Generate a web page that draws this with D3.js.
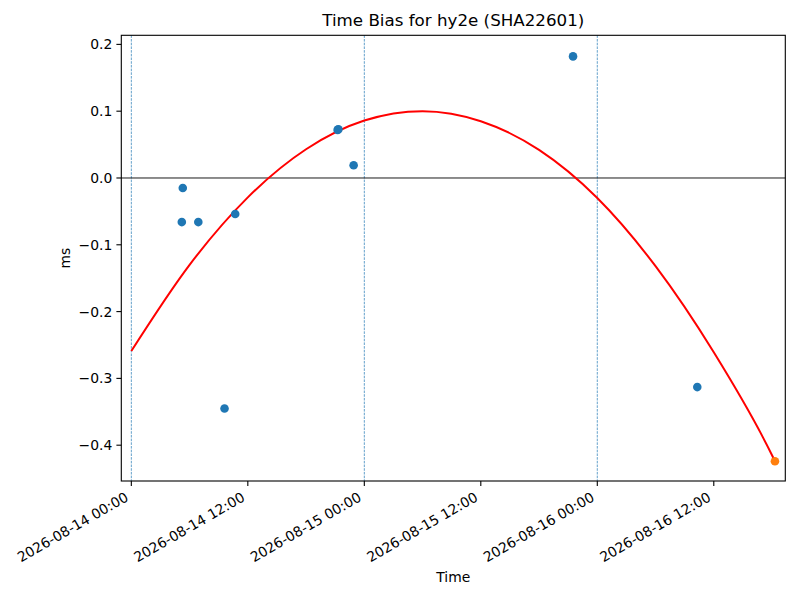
<!DOCTYPE html>
<html>
<head>
<meta charset="utf-8">
<script src="https://cdn.jsdelivr.net/npm/d3@7"></script>
<style>
  body { margin: 0; background: #fff; }
  svg { font-family: "DejaVu Sans", sans-serif; }
</style>
</head>
<body>
<svg id="chart" width="800" height="600"></svg>
<script>
// measured time bias samples (ms)
const pointTimes = ["2026-08-14 05:12", "2026-08-14 05:18", "2026-08-14 06:54", "2026-08-14 09:36",
                    "2026-08-14 10:42", "2026-08-14 21:15", "2026-08-14 21:20", "2026-08-14 22:54",
                    "2026-08-15 21:30", "2026-08-16 10:18"];
const pointBias = [-0.066, -0.015, -0.066, -0.345, -0.054, 0.072, 0.073, 0.019, 0.182, -0.313];

// latest sample, drawn in orange
const lastTime = "2026-08-16 18:18";
const lastBias = -0.424;

// fitted curve
const fitTimes = ["2026-08-14 00:00", "2026-08-14 06:00", "2026-08-14 12:00", "2026-08-14 18:00",
                  "2026-08-15 00:00", "2026-08-15 06:00", "2026-08-15 12:00", "2026-08-15 18:00",
                  "2026-08-16 00:00", "2026-08-16 06:00", "2026-08-16 12:00", "2026-08-16 18:00",
                  "2026-08-16 18:18"];
const fitBias = [-0.259, -0.130, -0.029, 0.043, 0.086, 0.100, 0.085, 0.042, -0.030, -0.132, -0.261, -0.415, -0.424];

const dayLines = ["2026-08-14 00:00", "2026-08-15 00:00", "2026-08-16 00:00"];
const xTicks = ["2026-08-14 00:00", "2026-08-14 12:00", "2026-08-15 00:00",
                "2026-08-15 12:00", "2026-08-16 00:00", "2026-08-16 12:00"];
const yTicks = [-0.4, -0.3, -0.2, -0.1, 0.0, 0.1, 0.2];

const parse = d3.utcParse("%Y-%m-%d %H:%M");
const fmt = d3.utcFormat("%Y-%m-%d %H:%M");

let svg = d3.select("#chart");
let margin = {left: 121.3, right: 785.3, top: 35.3, bottom: 481};

let x = d3.scaleUtc()
    .domain([parse("2026-08-13 22:58"), parse("2026-08-16 19:22")])
    .range([margin.left, margin.right]);
let y = d3.scaleLinear()
    .domain([-0.4536, 0.2136])
    .range([margin.bottom, margin.top]);

// day separators
svg.selectAll(".dayline")
    .data(dayLines)
    .enter()
    .append("line")
    .attr("x1", d => x(parse(d))).attr("x2", d => x(parse(d)))
    .attr("y1", margin.top).attr("y2", margin.bottom)
    .style("stroke", "#1f77b4")
    .style("stroke-width", 0.7)
    .style("stroke-dasharray", "2.6,1.1");

// zero line
svg.append("line")
    .attr("x1", margin.left).attr("x2", margin.right)
    .attr("y1", y(0)).attr("y2", y(0))
    .style("stroke", "#000")
    .style("stroke-width", 0.9);

// fitted curve
let line = d3.line()
    .x((d, i) => x(parse(fitTimes[i])))
    .y(d => y(d))
    .curve(d3.curveMonotoneX);
svg.append("path")
    .datum(fitBias)
    .attr("d", line)
    .style("fill", "none")
    .style("stroke", "red")
    .style("stroke-width", 2);

svg.selectAll(".pt")
    .data(pointBias)
    .enter()
    .append("circle")
    .attr("cx", (d, i) => x(parse(pointTimes[i])))
    .attr("cy", d => y(d))
    .attr("r", 4.3)
    .style("fill", "#1f77b4");

svg.append("circle")
    .attr("cx", x(parse(lastTime)))
    .attr("cy", y(lastBias))
    .attr("r", 4.3)
    .style("fill", "#ff7f0e");

// frame
svg.append("rect")
    .attr("x", margin.left).attr("y", margin.top)
    .attr("width", margin.right - margin.left)
    .attr("height", margin.bottom - margin.top)
    .style("fill", "none")
    .style("stroke", "#000")
    .style("stroke-width", 1.1);

// y axis
let yAxis = svg.append("g");
yTicks.forEach(function(v){
    let yy = y(v);
    yAxis.append("line")
        .attr("x1", margin.left - 4.9).attr("x2", margin.left)
        .attr("y1", yy).attr("y2", yy)
        .style("stroke", "#000").style("stroke-width", 1.1);
    yAxis.append("text")
        .attr("x", margin.left - 9)
        .attr("y", yy)
        .attr("dy", "0.36em")
        .attr("text-anchor", "end")
        .style("font-size", "13.9px")
        .text(d3.format(".1f")(v).replace("-", "\u2212"));
});

// x axis
let xAxis = svg.append("g");
xTicks.forEach(function(t){
    let xx = x(parse(t));
    xAxis.append("line")
        .attr("x1", xx).attr("x2", xx)
        .attr("y1", margin.bottom).attr("y2", margin.bottom + 4.9)
        .style("stroke", "#000").style("stroke-width", 1.1);
    xAxis.append("text")
        .attr("transform", "translate(" + (xx - 2) + "," + (margin.bottom + 19) + ") rotate(-30)")
        .attr("text-anchor", "end")
        .style("font-size", "13.9px")
        .text(fmt(parse(t)));
});

svg.append("text")
    .attr("x", (margin.left + margin.right) / 2)
    .attr("y", 26)
    .attr("text-anchor", "middle")
    .style("font-size", "16.7px")
    .text("Time Bias for hy2e (SHA22601)");

svg.append("text")
    .attr("x", (margin.left + margin.right) / 2)
    .attr("y", 582)
    .attr("text-anchor", "middle")
    .style("font-size", "13.9px")
    .text("Time");

svg.append("text")
    .attr("transform", "translate(70," + ((margin.top + margin.bottom) / 2) + ") rotate(-90)")
    .attr("text-anchor", "middle")
    .style("font-size", "13.9px")
    .text("ms");
</script>
</body>
</html>
